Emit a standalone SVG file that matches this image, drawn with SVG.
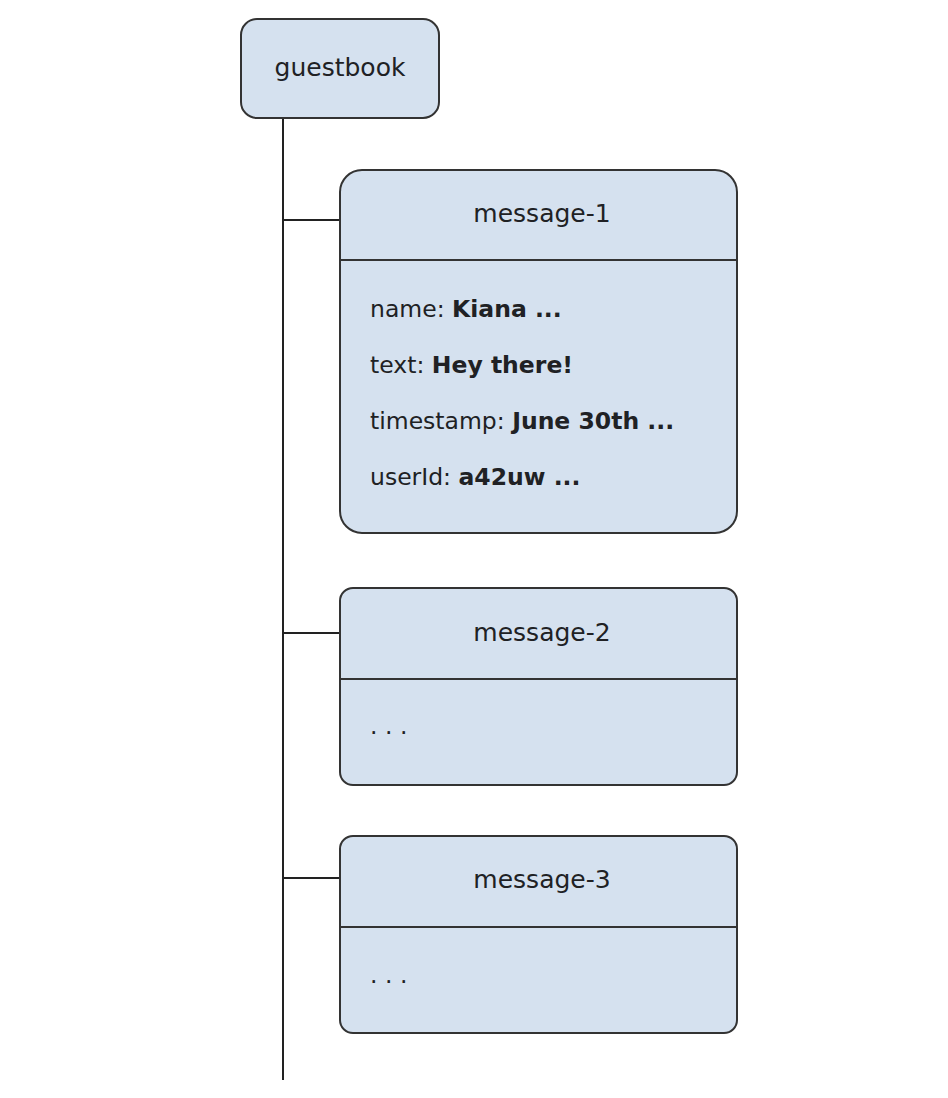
<svg xmlns="http://www.w3.org/2000/svg" width="948" height="1098" viewBox="0 0 948 1098">
<style>
.box{fill:#d5e1ef;stroke:#333333;stroke-width:2}
.div{stroke:#333333;stroke-width:2}
.conn{stroke:#222222;stroke-width:2;fill:none}
.t{font-family:"DejaVu Sans","Liberation Sans",sans-serif;font-size:23.5px;fill:#202124}
.ti{font-family:"DejaVu Sans","Liberation Sans",sans-serif;font-size:25px;fill:#202124;text-anchor:middle}
.b{font-weight:bold}
</style>
<rect width="948" height="1098" fill="#ffffff"/>
<g id="connectors">
<line class="conn" x1="283" y1="118" x2="283" y2="1080"/>
<line class="conn" x1="283" y1="220" x2="340" y2="220"/>
<line class="conn" x1="283" y1="633" x2="340" y2="633"/>
<line class="conn" x1="283" y1="878" x2="340" y2="878"/>
</g>
<g id="guestbook">
<rect class="box" x="241" y="19" width="198" height="99" rx="16"/>
<text class="ti" x="340" y="76">guestbook</text>
</g>
<g id="message-1">
<rect class="box" x="340" y="170" width="397" height="363" rx="22"/>
<line class="div" x1="340" y1="260" x2="736" y2="260"/>
<text class="ti" x="542" y="222">message-1</text>
<text class="t" x="370" y="317">name: <tspan class="b">Kiana ...</tspan></text>
<text class="t" x="370" y="373">text: <tspan class="b">Hey there!</tspan></text>
<text class="t" x="370" y="429">timestamp: <tspan class="b">June 30th ...</tspan></text>
<text class="t" x="370" y="485">userId: <tspan class="b">a42uw ...</tspan></text>
</g>
<g id="message-2">
<rect class="box" x="340" y="588" width="397" height="197" rx="13"/>
<line class="div" x1="340" y1="679" x2="736" y2="679"/>
<text class="ti" x="542" y="641">message-2</text>
<text class="t" x="370" y="734">. . .</text>
</g>
<g id="message-3">
<rect class="box" x="340" y="836" width="397" height="197" rx="13"/>
<line class="div" x1="340" y1="927" x2="736" y2="927"/>
<text class="ti" x="542" y="888">message-3</text>
<text class="t" x="370" y="983">. . .</text>
</g>
</svg>
